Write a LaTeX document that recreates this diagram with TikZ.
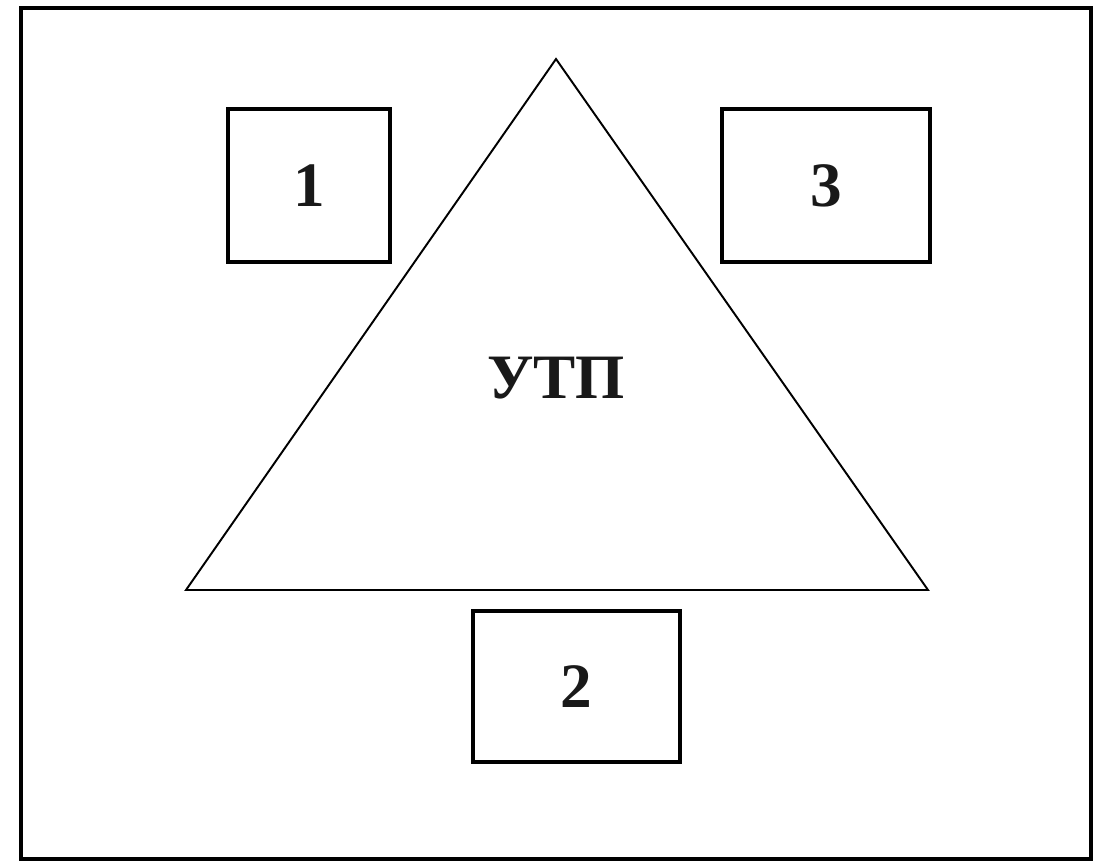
\documentclass[tikz,border=0pt]{standalone}
\usepackage{fontspec}
\setmainfont{Liberation Serif}
\begin{document}
\begin{tikzpicture}[x=0.02cm,y=-0.02cm,
  box/.style={draw=black,line width=2pt,inner sep=0pt,
    font=\fontsize{36}{40}\selectfont\bfseries,text=black!90},
  lbl/.style={font=\fontsize{36}{40}\selectfont\bfseries,text=black!90}]
\useasboundingbox (0,0) rectangle (1105,861);
\draw[line width=1.9pt] (21,8) rectangle (1091,859);
\coordinate (apex) at (556,59);
\coordinate (bl) at (186,590);
\coordinate (br) at (928,590);
\draw[line width=1.1pt,line join=miter] (apex) -- (br) -- (bl) -- cycle;
\node[box,minimum width=3.24cm,minimum height=3.06cm] (n1) at (309,185.5) {1};
\node[box,minimum width=4.16cm,minimum height=3.06cm] (n3) at (826,185.5) {3};
\node[box,minimum width=4.14cm,minimum height=3.02cm] (n2) at (576.5,686.5) {2};
\node[lbl] (utp) at (556,378) {УТП};
\end{tikzpicture}
\end{document}
